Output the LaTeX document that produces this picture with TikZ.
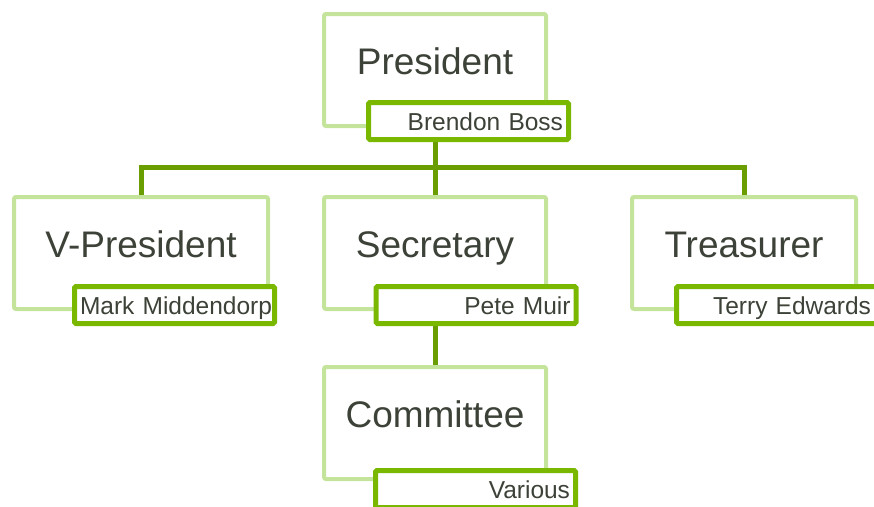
\documentclass[tikz,border=0pt]{standalone}
\usepackage{fontspec}
\setmainfont{Liberation Sans}
\usetikzlibrary{positioning}
\definecolor{orgLight}{HTML}{C5E49B}
\definecolor{orgBright}{HTML}{7AB800}
\definecolor{orgLine}{HTML}{6A9E00}
\definecolor{orgText}{HTML}{3C4237}

\begin{document}
\begin{tikzpicture}[
  x=1pt, y=-1pt,
  every node/.style={text=orgText},
  role/.style={draw=orgLight, line width=4pt, rounded corners=2pt, fill=white, inner sep=0pt, minimum height=112pt, font=\fontsize{37}{40}\selectfont, text height=26.5pt, text depth=18.5pt},
  who/.style={draw=orgBright, line width=5pt, rounded corners=1.5pt, fill=white, inner xsep=5.5pt, inner ysep=0pt, minimum height=37pt, text width=189pt, align=right, font=\fontsize{24.5}{28}\selectfont, text height=18.5pt, text depth=0pt},
  link/.style={draw=orgLine, line width=5pt}
]
\useasboundingbox (0,0) rectangle (874,506);

% President
\node[role, minimum width=222pt] (P0) at (435,70) {President};
\node[who] (P1) at (468.5,121) {\mbox{Brendon Boss}};

% Second row
\node[role, minimum width=254pt] (V0) at (141,253) {V-President};
\node[who] (V1) at (174.5,305) {\mbox{Mark Middendorp}};
\node[role, minimum width=222pt] (S0) at (435,253) {Secretary};
\node[who] (S1) at (476,305) {\mbox{Pete Muir}};
\node[role, minimum width=224pt] (T0) at (744,253) {Treasurer};
\node[who] (T1) at (776.5,305) {\mbox{Terry Edwards}};

% Committee
\node[role, minimum width=222pt] (C0) at (435,423) {Committee};
\node[who] (C1) at (475.5,489) {\mbox{Various}};

% Connectors
\coordinate (bus) at (435,167);
\draw[link] (P1.south -| P0) -- (bus);
\draw[link] (bus) -| (V0.north);
\draw[link] (bus) -| (T0.north);
\draw[link] (bus) -- (S0.north);
\draw[link] (S1.south -| S0) -- (C0.north);
\end{tikzpicture}
\end{document}
